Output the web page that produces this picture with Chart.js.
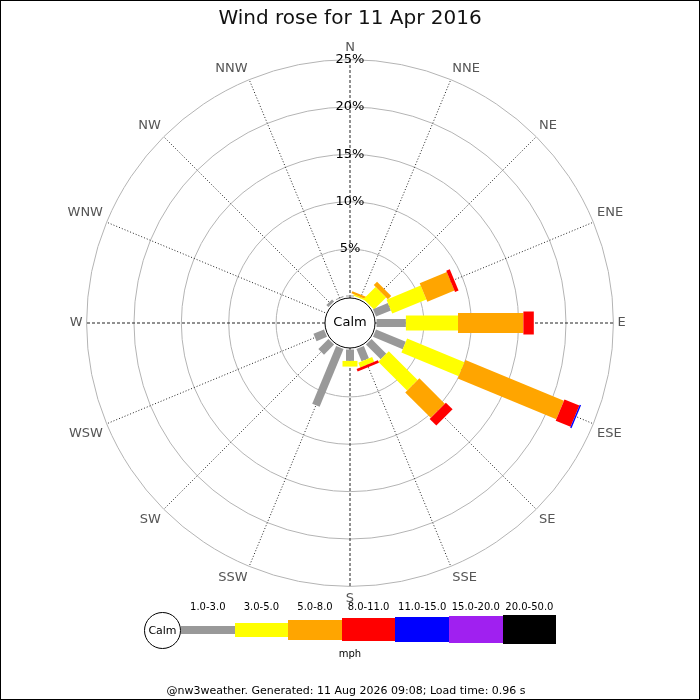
<!DOCTYPE html>
<html>
<head>
<meta charset="utf-8">
<title>Wind rose</title>
<script src="https://cdn.jsdelivr.net/npm/chart.js@4.4.1/dist/chart.umd.min.js"></script>
<style>
  html, body { margin: 0; padding: 0; background: #fff; }
  #page { position: relative; width: 700px; height: 700px; font-family: 'DejaVu Sans', sans-serif; color: #000; }
  #chartBox { position: absolute; left: 0; top: 0; width: 700px; height: 700px; }
  #frame { position: absolute; left: 0; top: 0; width: 700px; height: 700px; box-sizing: border-box; border: 1px solid #000; pointer-events: none; }
  .lab { position: absolute; text-align: center; font-size: 10px; line-height: 12px; white-space: nowrap; }
</style>
</head>
<body>
<div id="page">
  <div id="chartBox"><canvas id="windRose"></canvas></div>
  <div id="legend"></div>
  <div class="lab" style="left:0;width:700px;top:648px;">mph</div>
  <div class="lab" style="left:-4px;width:700px;top:684px;font-size:11px;line-height:13px;">@nw3weather. Generated: 11 Aug 2026 09:08; Load time: 0.96 s</div>
  <div id="frame"></div>
</div>
<script>
  // directions and % of time per speed band (mph)
  const directions = ['N', 'NNE', 'NE', 'ENE', 'E', 'ESE', 'SE', 'SSE', 'S', 'SSW', 'SW', 'WSW', 'W', 'WNW', 'NW', 'NNW'];
  const band1to3   = [0.1, 0, 0, 1.7, 3.1, 3.4, 2.2, 1.4, 1.2, 6.6, 1.5, 1.2, 0, 0, 0.3, 0.1];
  const band3to5   = [0, 0.15, 1.8, 3.9, 5.5, 6.55, 4.3, 0.55, 0.6, 0, 0, 0, 0, 0, 0, 0];
  const band5to8   = [0, 0.25, 0.5, 3.1, 6.9, 11.25, 3.8, 0, 0, 0, 0, 0, 0, 0, 0, 0];
  const band8to11  = [0, 0, 0, 0.4, 1.1, 1.7, 1.0, 0.3, 0, 0, 0, 0, 0, 0, 0, 0];
  const band11to15 = [0, 0, 0, 0, 0, 0.15, 0, 0, 0, 0, 0, 0, 0, 0, 0, 0];
  const band15to20 = [0, 0, 0, 0, 0, 0, 0, 0, 0, 0, 0, 0, 0, 0, 0, 0];
  const band20to50 = [0, 0, 0, 0, 0, 0, 0, 0, 0, 0, 0, 0, 0, 0, 0, 0];
  const bandLabels = ['1.0-3.0', '3.0-5.0', '5.0-8.0', '8.0-11.0', '11.0-15.0', '15.0-20.0', '20.0-50.0'];
  const tickValues = [5, 10, 15, 20, 25];

  const bands = [band1to3, band3to5, band5to8, band8to11, band11to15, band15to20, band20to50];
  const bandColours = ['#999999', '#ffff00', '#ffa500', '#ff0000', '#0000ff', '#a020f0', '#000000'];
  const barWidths = [8, 15, 20, 23, 25, 27, 29];

  Chart.defaults.font.family = "'DejaVu Sans', sans-serif";

  // stacked bars along each spoke + the calm circle in the middle
  const roseBars = {
    id: 'roseBars',
    beforeDatasetsDraw(chart) {
      const scale = chart.scales.r;
      const ctx = chart.ctx;
      ctx.save();
      const r0 = scale.getDistanceFromCenterForValue(0);
      ctx.beginPath();
      ctx.arc(scale.xCenter, scale.yCenter, r0 - 1.5, 0, Math.PI * 2);
      ctx.fillStyle = '#fff';
      ctx.fill();
      ctx.lineWidth = 1;
      ctx.strokeStyle = '#000';
      ctx.stroke();
      ctx.fillStyle = '#000';
      ctx.font = "13px 'DejaVu Sans'";
      ctx.textAlign = 'center';
      ctx.textBaseline = 'middle';
      ctx.fillText('Calm', scale.xCenter, scale.yCenter);

      ctx.lineCap = 'butt';
      directions.forEach((d, i) => {
        let cum = 0;
        bands.forEach((band, b) => {
          const v = band[i];
          if (!v) return;
          const p1 = scale.getPointPositionForValue(i, cum);
          const p2 = scale.getPointPositionForValue(i, cum + v);
          ctx.beginPath();
          ctx.moveTo(p1.x, p1.y);
          ctx.lineTo(p2.x, p2.y);
          ctx.lineWidth = barWidths[b];
          ctx.strokeStyle = bandColours[b];
          ctx.stroke();
          cum += v;
        });
      });
      ctx.restore();
    }
  };

  new Chart(document.getElementById('windRose'), {
    type: 'radar',
    data: {
      labels: directions,
      datasets: []
    },
    options: {
      responsive: true,
      maintainAspectRatio: false,
      animation: false,
      layout: {
        padding: { top: 0, bottom: 93, left: 0, right: 0 }
      },
      plugins: {
        legend: { display: false },
        tooltip: { enabled: false },
        title: {
          display: true,
          text: 'Wind rose for 11 Apr 2016',
          color: '#111',
          font: { size: 20, weight: 'normal' },
          padding: { top: 7, bottom: 10 }
        }
      },
      scales: {
        r: {
          min: -2.8,
          max: 25,
          afterBuildTicks: (scale) => {
            scale.ticks = tickValues.map(v => ({ value: v }));
          },
          ticks: {
            color: '#000',
            font: { size: 13 },
            showLabelBackdrop: false,
            backdropPadding: 0,
            callback: (v) => v + '%'
          },
          grid: {
            circular: true,
            color: '#b4b4b4',
            lineWidth: 1
          },
          angleLines: {
            color: '#222',
            lineWidth: 1,
            borderDash: (ctx) => (ctx.index % 4 === 0 ? [3, 2] : [1, 2])
          },
          pointLabels: {
            color: '#555',
            font: { size: 13 },
            padding: -2.5
          }
        }
      }
    },
    plugins: [roseBars]
  });

  // speed band key under the chart
  const legend = document.getElementById('legend');
  const calm = document.createElement('div');
  calm.style.cssText = 'position:absolute;left:144px;top:612px;width:37px;height:37px;box-sizing:border-box;border:1px solid #000;border-radius:50%;font-size:11px;line-height:35px;text-align:center;background:#fff;';
  calm.textContent = 'Calm';
  legend.appendChild(calm);
  const legendHeights = [8, 14, 20, 23, 25, 27, 29];
  bandLabels.forEach((lab, b) => {
    const x = 181 + b * 53.6;
    const bar = document.createElement('div');
    bar.style.cssText = 'position:absolute;left:' + x + 'px;top:' + (629.5 - legendHeights[b] / 2) + 'px;width:53.6px;height:' + legendHeights[b] + 'px;background:' + bandColours[b] + ';';
    legend.appendChild(bar);
    const txt = document.createElement('div');
    txt.className = 'lab';
    txt.style.left = (x - 5) + 'px';
    txt.style.width = '63.6px';
    txt.style.top = '601px';
    txt.textContent = lab;
    legend.appendChild(txt);
  });
</script>
</body>
</html>
